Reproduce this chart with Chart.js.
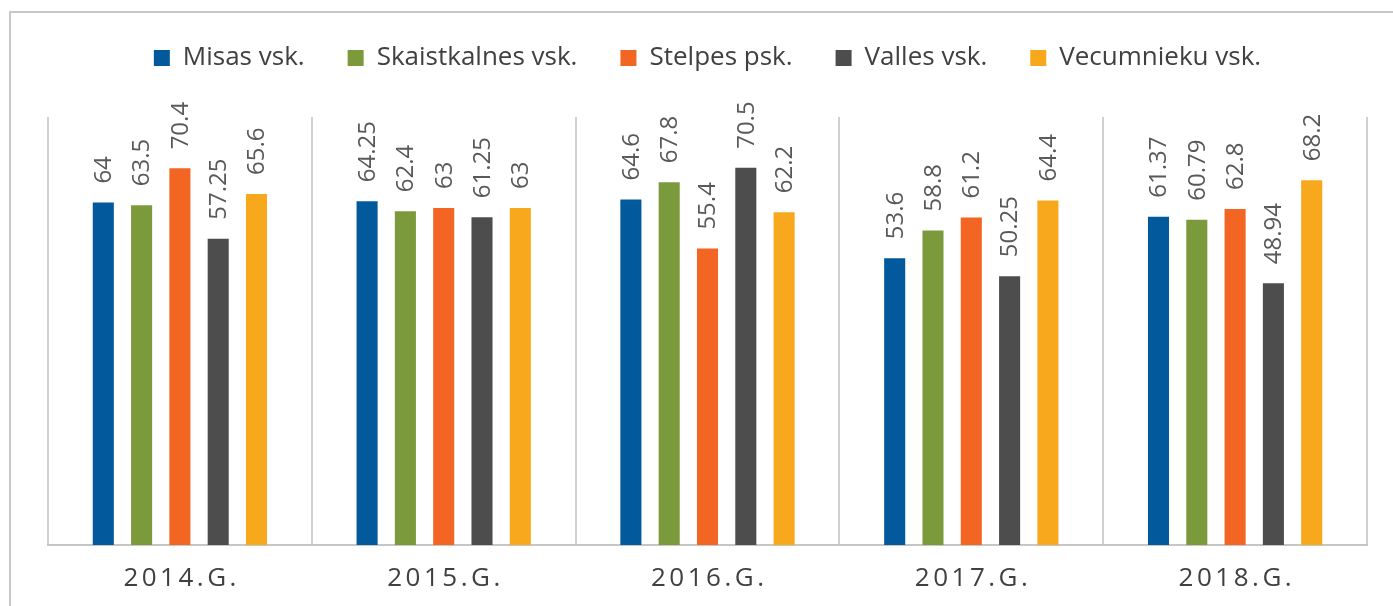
<!DOCTYPE html>
<html>
<head>
<meta charset="utf-8">
<script src="https://cdn.jsdelivr.net/npm/chart.js@4.4.1/dist/chart.umd.min.js"></script>
<style>
  html, body { margin: 0; padding: 0; background: #fff; }
  #wrap { position: relative; width: 1393px; height: 606px; }
</style>
</head>
<body>
<div id="wrap"><canvas id="chartSkolas"></canvas></div>
<script>
"use strict";

/* Dati */
var gadi         = ['2014.G.', '2015.G.', '2016.G.', '2017.G.', '2018.G.'];
var nosaukumi    = ['Misas vsk.', 'Skaistkalnes vsk.', 'Stelpes psk.', 'Valles vsk.', 'Vecumnieku vsk.'];
var misas        = [64, 64.25, 64.6, 53.6, 61.37];
var skaistkalnes = [63.5, 62.4, 67.8, 58.8, 60.79];
var stelpes      = [70.4, 63, 55.4, 61.2, 62.8];
var valles       = [57.25, 61.25, 70.5, 50.25, 48.94];
var vecumnieki   = [65.6, 63, 62.2, 64.4, 68.2];
var krasas       = ['#02599b', '#7b9a3b', '#f26522', '#4d4d4d', '#f8a81c'];

Chart.defaults.font.family = '"Open Sans", "Noto Sans", sans-serif';

/* pelēkais rāmis ap visu attēlu */
var ramis = {
  id: 'ramis',
  beforeDraw: function (chart) {
    var ctx = chart.ctx;
    ctx.save();
    ctx.strokeStyle = '#c8c8c8';
    ctx.lineWidth = 2;
    ctx.strokeRect(10, 12, chart.width + 20, chart.height + 20);
    ctx.restore();
  }
};

/* atstarpe starp leģendu un grafiku */
var legendaAtstarpe = {
  id: 'legendaAtstarpe',
  beforeInit: function (chart) {
    var fit = chart.legend.fit;
    chart.legend.fit = function () {
      fit.call(this);
      this.height += 36;
    };
  }
};

/* vērtības virs stabiņiem, pagrieztas vertikāli */
var vertibas = {
  id: 'vertibas',
  afterDatasetsDraw: function (chart) {
    var ctx = chart.ctx;
    ctx.save();
    ctx.font = '24px "Open Sans"';
    ctx.fillStyle = '#595959';
    ctx.textAlign = 'left';
    ctx.textBaseline = 'middle';
    chart.data.datasets.forEach(function (ds, i) {
      chart.getDatasetMeta(i).data.forEach(function (bar, j) {
        ctx.save();
        ctx.translate(bar.x + 1, bar.y - 19);
        ctx.rotate(-Math.PI / 2);
        ctx.fillText(String(ds.data[j]), 0, 0);
        ctx.restore();
      });
    });
    ctx.restore();
  }
};

/* gadu nosaukumi ar retinātiem burtiem */
var gaduEtiketes = {
  id: 'gaduEtiketes',
  afterDraw: function (chart) {
    var ctx = chart.ctx;
    var x = chart.scales.x;
    var atstarpe = 3.5;
    var y = chart.chartArea.bottom + 34;
    ctx.save();
    ctx.font = '26px "Open Sans"';
    ctx.fillStyle = '#404040';
    ctx.textAlign = 'left';
    ctx.textBaseline = 'middle';
    gadi.forEach(function (teksts, i) {
      var burti = teksts.split('');
      var platums = burti.reduce(function (s, b) { return s + ctx.measureText(b).width; }, 0) +
                    atstarpe * (burti.length - 1);
      var px = x.getPixelForValue(i) - platums / 2;
      burti.forEach(function (b) {
        ctx.fillText(b, px, y);
        px += ctx.measureText(b).width + atstarpe;
      });
    });
    ctx.restore();
  }
};

var serijas = [misas, skaistkalnes, stelpes, valles, vecumnieki];

new Chart(document.getElementById('chartSkolas'), {
  type: 'bar',
  data: {
    labels: gadi,
    datasets: serijas.map(function (dati, i) {
      return {
        label: nosaukumi[i],
        data: dati,
        backgroundColor: krasas[i],
        borderWidth: 0
      };
    })
  },
  options: {
    responsive: true,
    maintainAspectRatio: false,
    animation: false,
    layout: { padding: { top: 2, left: 48, right: 26, bottom: 61 } },
    datasets: { bar: { categoryPercentage: 0.726, barPercentage: 0.55 } },
    scales: {
      x: {
        grid: { offset: true, color: '#d0d0d0', lineWidth: 2, drawTicks: false },
        border: { color: '#c6c6c6', width: 2 },
        ticks: { display: false }
      },
      y: { display: false, min: 0, max: 80 }
    },
    plugins: {
      legend: {
        position: 'top',
        labels: {
          boxWidth: 16,
          boxHeight: 16,
          padding: 43,
          color: '#404040',
          font: { size: 26 }
        }
      },
      tooltip: { enabled: false }
    }
  },
  plugins: [ramis, legendaAtstarpe, vertibas, gaduEtiketes]
});
</script>
</body>
</html>
